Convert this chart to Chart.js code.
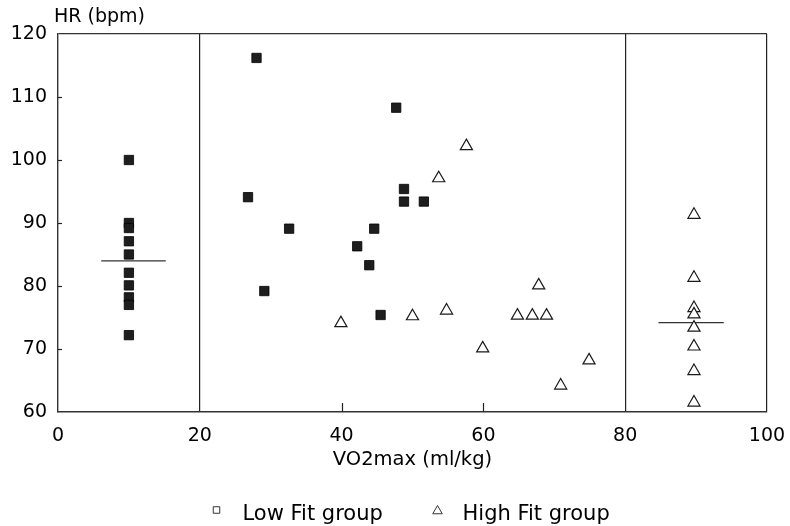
<!DOCTYPE html>
<html>
<head>
<meta charset="utf-8">
<script src="https://cdn.jsdelivr.net/npm/chart.js"></script>
<style>
  html, body { margin: 0; padding: 0; background: #fff; }
  #wrap { width: 790px; height: 526px; }
</style>
</head>
<body>
<div id="wrap"><canvas id="c" width="790" height="526"></canvas></div>
<script>
// ---- data ----
const lowFitX  = [10, 10, 10, 10, 10, 10, 10, 10, 10, 10,
                  28.0, 26.8, 32.6, 29.1, 42.2, 43.9, 44.6, 45.5, 47.7, 48.8, 48.8, 51.6];
const lowFitY  = [100.0, 90.0, 89.2, 87.1, 85.0, 82.1, 80.1, 78.2, 77.0, 72.2,
                  116.2, 94.1, 89.1, 79.2, 86.3, 83.3, 89.1, 75.4, 108.3, 95.4, 93.4, 93.4];
const highFitX = [39.9, 50.0, 54.8, 53.7, 57.6, 59.9, 64.8, 66.9, 68.9, 67.8, 70.9, 74.9,
                  89.7, 89.7, 89.7, 89.7, 89.7, 89.7, 89.7, 89.7];
const highFitY = [74.1, 75.2, 76.1, 97.1, 102.2, 70.1, 75.3, 75.3, 75.3, 80.1, 64.2, 68.2,
                  91.3, 81.3, 76.5, 75.5, 73.4, 70.4, 66.5, 61.5];
const lowMean = 84.0;
const lowMeanSpan = [6.1, 15.2];
const highMean = 74.2;
const highMeanSpan = [84.7, 93.9];
const dividers = [20, 80];
const xTicks = [0, 20, 40, 60, 80, 100];
const yTicks = [60, 70, 80, 90, 100, 110, 120];
const seriesNames = ['Low Fit group', 'High Fit group'];
const yAxisTitle = 'HR (bpm)';
const xAxisTitle = 'VO2max (ml/kg)';

const toPts = (xs, ys) => xs.map((x, i) => ({ x: x, y: ys[i] }));
const FONT = "'DejaVu Sans', Verdana, sans-serif";
const INK = '#000';

const extrasPlugin = {
  id: 'extras',
  afterDatasetsDraw(chart) {
    const ctx = chart.ctx;
    const xs = chart.scales.x, ys = chart.scales.y;
    const a = chart.chartArea;
    ctx.save();
    ctx.strokeStyle = '#222';
    ctx.lineWidth = 1.2;
    // inner tick marks
    xTicks.filter(v => v > xs.min && v < xs.max && !dividers.includes(v)).forEach(v => {
      const px = Math.round(xs.getPixelForValue(v)) + 0.5;
      ctx.beginPath(); ctx.moveTo(px, a.bottom); ctx.lineTo(px, a.bottom - 9); ctx.stroke();
    });
    yTicks.filter(v => v > ys.min && v < ys.max).forEach(v => {
      const py = Math.round(ys.getPixelForValue(v)) + 0.5;
      ctx.beginPath(); ctx.moveTo(a.left, py); ctx.lineTo(a.left + 4, py); ctx.stroke();
    });
    ctx.restore();
  },
  afterDraw(chart) {
    const ctx = chart.ctx;
    const a = chart.chartArea;
    ctx.save();
    // y axis title, horizontal above the plot
    ctx.fillStyle = INK;
    ctx.font = "19px " + FONT;
    ctx.textAlign = 'left';
    ctx.textBaseline = 'middle';
    ctx.fillText(yAxisTitle, 54, 17);
    // legend
    const cx = (a.left + a.right) / 2;
    const ly = 515;
    const items = [
      { style: 'rect', r: 4.6, mx: cx - 196, tx: cx - 170, text: seriesNames[0] },
      { style: 'triangle', r: 5.5, mx: cx + 25, tx: cx + 50, text: seriesNames[1] }
    ];
    ctx.font = "21px " + FONT;
    items.forEach(it => {
      ctx.strokeStyle = '#333';
      ctx.fillStyle = '#fff';
      ctx.lineWidth = 1;
      if (Chart.helpers && Chart.helpers.drawPoint) {
        Chart.helpers.drawPoint(ctx, { pointStyle: it.style, radius: it.r, borderWidth: 1, rotation: 0 }, it.mx, it.style === 'triangle' ? ly - 4 : ly - 5);
      }
      ctx.fillStyle = INK;
      ctx.fillText(it.text, it.tx, ly);
    });
    ctx.restore();
  }
};

new Chart(document.getElementById('c'), {
  type: 'scatter',
  data: {
    datasets: [
      {
        label: seriesNames[0],
        data: toPts(lowFitX, lowFitY),
        pointStyle: 'rect',
        pointRadius: 6.6,
        pointHoverRadius: 6.6,
        backgroundColor: '#1e1e1e',
        borderColor: '#000',
        borderWidth: 0.8,
        order: 2
      },
      {
        label: seriesNames[1],
        data: toPts(highFitX, highFitY),
        pointStyle: 'triangle',
        pointRadius: 7,
        pointHoverRadius: 7,
        backgroundColor: '#fff',
        borderColor: '#1a1a1a',
        borderWidth: 1.2,
        order: 1
      },
      {
        type: 'line',
        label: 'low mean',
        data: [{ x: lowMeanSpan[0], y: lowMean }, { x: lowMeanSpan[1], y: lowMean }],
        borderColor: '#333',
        borderWidth: 1.2,
        pointRadius: 0,
        showLine: true,
        order: 3
      },
      {
        type: 'line',
        label: 'high mean',
        data: [{ x: highMeanSpan[0], y: highMean }, { x: highMeanSpan[1], y: highMean }],
        borderColor: '#333',
        borderWidth: 1.2,
        pointRadius: 0,
        showLine: true,
        order: 3
      }
    ]
  },
  options: {
    responsive: false,
    animation: false,
    devicePixelRatio: 1,
    layout: { padding: { left: 0, right: 23, top: 34, bottom: 54 } },
    plugins: {
      legend: { display: false },
      tooltip: { enabled: false },
      title: { display: false }
    },
    scales: {
      x: {
        type: 'linear',
        min: 0, max: 100,
        afterBuildTicks: (s) => { s.ticks = xTicks.map(v => ({ value: v })); },
        afterFit: (s) => { s.height = 60; s.paddingLeft = 0; s.paddingRight = 0; },
        grid: {
          drawTicks: false,
          lineWidth: 1.2,
          color: (c) => (dividers.includes(c.tick.value) || c.tick.value === 100) ? '#222' : 'rgba(0,0,0,0)'
        },
        border: { display: true, color: '#333', width: 1.4 },
        ticks: { color: INK, font: { family: FONT, size: 19 }, padding: 13, maxRotation: 0, autoSkip: false },
        title: { display: true, text: xAxisTitle, color: INK, font: { family: FONT, size: 19.5 }, padding: { top: 0, bottom: 0 } }
      },
      y: {
        type: 'linear',
        min: 60, max: 120,
        afterBuildTicks: (s) => { s.ticks = yTicks.map(v => ({ value: v })); },
        afterFit: (s) => { s.width = 58; s.paddingTop = 0; s.paddingBottom = 0; },
        grid: {
          drawTicks: false,
          lineWidth: 1.2,
          color: (c) => c.tick.value === 120 ? '#333' : 'rgba(0,0,0,0)'
        },
        border: { display: true, color: '#333', width: 1.4 },
        ticks: { color: INK, font: { family: FONT, size: 19 }, padding: 11, autoSkip: false }
      }
    }
  },
  plugins: [extrasPlugin]
});
</script>
</body>
</html>
